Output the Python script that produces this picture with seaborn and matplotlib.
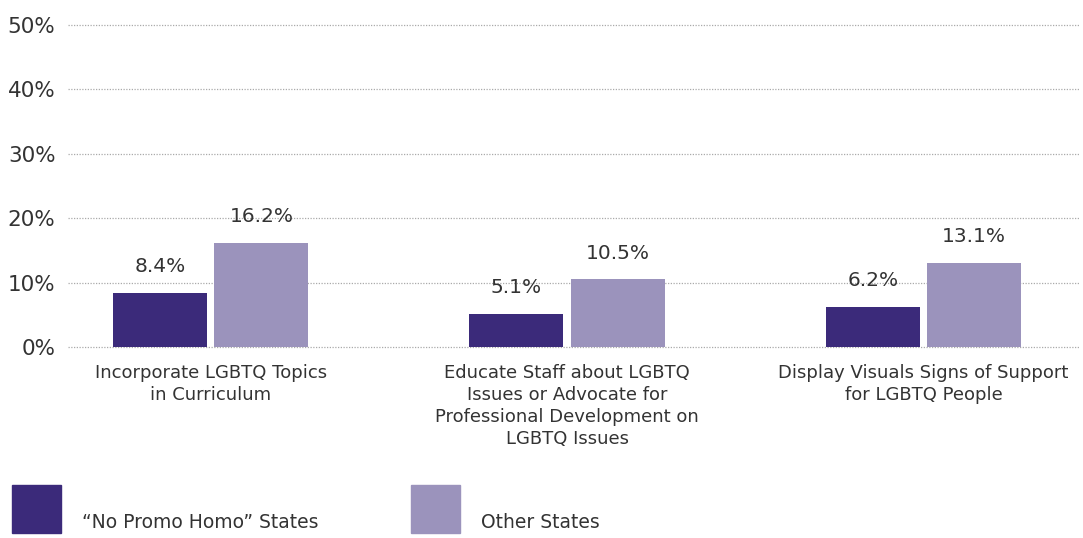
import pandas as pd
import matplotlib.pyplot as plt
import seaborn as sns
from matplotlib.patches import Rectangle

# Chart values
categories = ['Incorporate LGBTQ Topics\nin Curriculum',
              'Educate Staff about LGBTQ\nIssues or Advocate for\nProfessional Development on\nLGBTQ Issues',
              'Display Visuals Signs of Support\nfor LGBTQ People']
groups = ['\u201cNo Promo Homo\u201d States', 'Other States']
promo_vals = [8.4, 5.1, 6.2]
other_vals = [16.2, 10.5, 13.1]
colors = ['#3b2a7a', '#9b93bc']

data = pd.DataFrame({
    'category': categories * 2,
    'group': [groups[0]] * 3 + [groups[1]] * 3,
    'value': promo_vals + other_vals,
})

sns.set_style('white')
plt.rcParams['font.family'] = ['DejaVu Sans']
text_color = '#333333'

fig = plt.figure(figsize=(10.83, 5.38), dpi=100)
ax = fig.add_axes([68 / 1083, 191 / 538, 1012 / 1083, 322 / 538])

sns.barplot(data=data, x='category', y='value', hue='group', palette=colors,
            width=0.57, gap=0.075, ax=ax, legend=False, saturation=1, linewidth=0)

for c in ax.containers:
    ax.bar_label(c, labels=[f'{v:.1f}%' for v in c.datavalues], padding=12,
                 fontsize=14.5, color=text_color)

ax.set_ylim(0, 50)
ax.set_xlim(-0.40, 2.439)
ax.set_yticks(range(0, 51, 10))
ax.set_yticklabels([f'{t}%' for t in range(0, 51, 10)], fontsize=15.5, color=text_color)
ax.tick_params(axis='y', length=0, pad=9)
ax.tick_params(axis='x', length=0, pad=12, labelsize=13, labelcolor=text_color)
for lab in ax.get_xticklabels():
    lab.set_linespacing(1.3)
ax.set_xlabel('')
ax.set_ylabel('')
ax.yaxis.grid(True, linestyle=(0, (1, 1.2)), color='#aaaaaa', linewidth=0.9)
for gl in ax.get_ygridlines():
    gl.set_clip_on(False)
ax.set_axisbelow(True)
for s in ax.spines.values():
    s.set_visible(False)

# Legend drawn by hand: square swatch with label at its base
for i, (name, col) in enumerate(zip(groups, colors)):
    x0 = (12 + i * 399) / 1083
    fig.add_artist(Rectangle((x0, 5 / 538), 49 / 1083, 48 / 538,
                             transform=fig.transFigure, color=col))
    fig.text(x0 + 70 / 1083, 6 / 538, name, fontsize=13.5, color=text_color,
             ha='left', va='bottom')

fig.savefig('out.png', dpi=100)
